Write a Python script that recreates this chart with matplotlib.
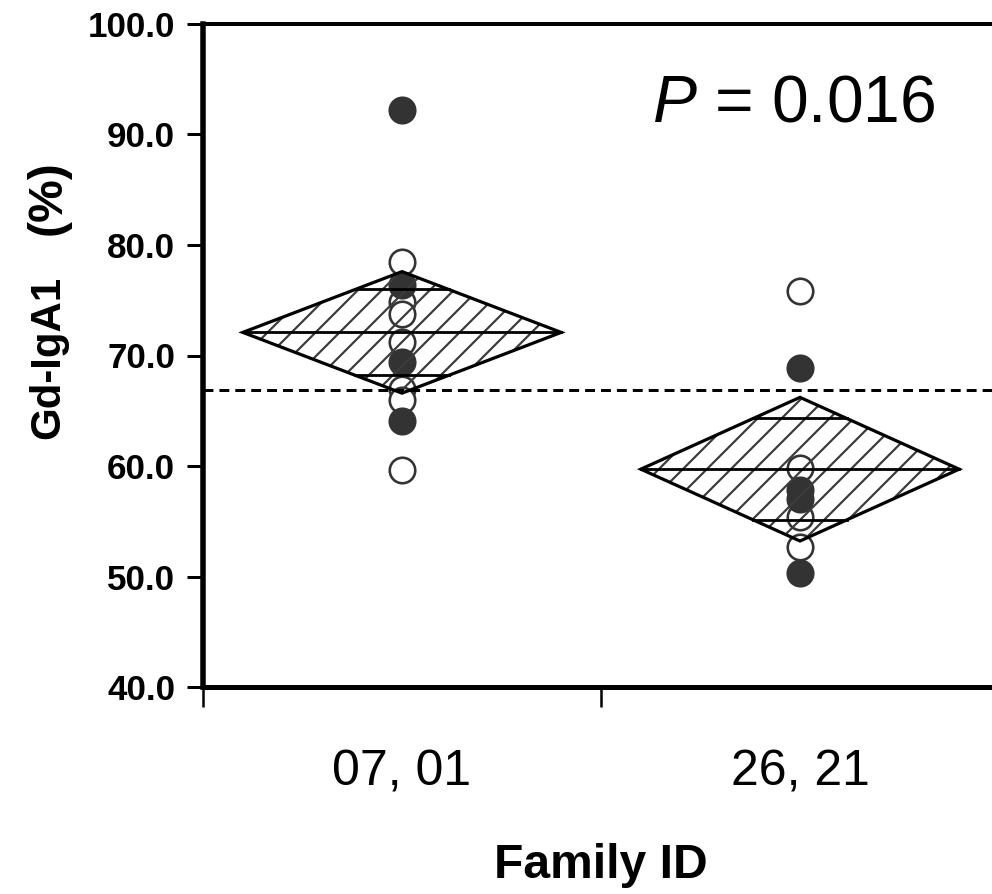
import numpy as np
import matplotlib
matplotlib.use("Agg")
import matplotlib.pyplot as plt
from matplotlib.patches import Polygon
from matplotlib.transforms import blended_transform_factory

# data
families = ["07, 01", "26, 21"]
g1_values = [92.2, 78.5, 76.4, 74.8, 73.8, 71.2, 69.4, 67.0, 66.0, 64.1, 59.6]
g1_filled = [True, False, True, False, False, False, True, False, False, True, False]
g2_values = [75.8, 68.9, 59.8, 57.8, 57.0, 55.4, 52.7, 50.3]
g2_filled = [False, True, False, True, True, False, False, True]
ci_half = [5.5, 6.5]          # half height of the 95% CI diamonds
y_ticks = [40, 50, 60, 70, 80, 90, 100]
p_text = "0.016"

plt.rcParams['font.family'] = ['Liberation Sans', 'DejaVu Sans']
plt.rcParams['mathtext.fontset'] = 'custom'
plt.rcParams['mathtext.it'] = 'Liberation Sans:italic'
plt.rcParams['mathtext.rm'] = 'Liberation Sans'
plt.rcParams['hatch.linewidth'] = 2.2


def main():
    fig = plt.figure(figsize=(992 / 72, 894 / 72), dpi=72)
    ax = fig.add_axes([203 / 992, 207 / 894, 796 / 992, 663 / 894])
    ax.set_xlim(0, 2)
    ax.set_ylim(40, 100)

    groups = [(g1_values, g1_filled), (g2_values, g2_filled)]
    centers = [0.5, 1.5]
    half_w = 0.4

    for cx, (vals, filled), ch in zip(centers, groups, ci_half):
        vals = np.array(vals)
        filled = np.array(filled)
        ax.plot(np.full((~filled).sum(), cx), vals[~filled], 'o', ms=25.5,
                mfc='white', mec='#333333', mew=2.6, zorder=2)
        ax.plot(np.full(filled.sum(), cx), vals[filled], 'o', ms=25.5,
                mfc='#333333', mec='#333333', mew=2.6, zorder=2)

        m = vals.mean()
        pts = [(cx - half_w, m), (cx, m + ch), (cx + half_w, m), (cx, m - ch)]
        ax.add_patch(Polygon(pts, closed=True, fill=False, hatch='/',
                             edgecolor='#3c3c3c', lw=0, zorder=3))
        ax.add_patch(Polygon(pts, closed=True, fill=False, joinstyle='miter',
                             edgecolor='black', lw=3.2, zorder=4))
        ax.plot([cx - half_w, cx + half_w], [m, m], color='black', lw=2.8, zorder=4)
        ov = ch / np.sqrt(2)
        frac = 1 - ov / ch
        for yy in (m + ov, m - ov):
            ax.plot([cx - half_w * frac, cx + half_w * frac], [yy, yy],
                    color='black', lw=2.8, zorder=4)

    grand = np.mean(g1_values + g2_values)
    ax.axhline(grand, color='black', lw=3, ls=(0, (3.3, 2)), zorder=5)

    ax.text(1.128, 91.2, r'$\it{P}$ = ' + p_text, fontsize=66, va='baseline', ha='left')

    # axes styling
    ax.spines['right'].set_visible(False)
    ax.spines['left'].set_linewidth(5.5)
    ax.spines['bottom'].set_linewidth(5)
    ax.spines['top'].set_linewidth(4)
    ax.set_yticks(y_ticks)
    ax.set_yticklabels(["%.1f" % t for t in y_ticks], fontsize=35, fontweight='bold')
    ax.tick_params(axis='y', length=16, width=3, pad=12, direction='out')
    ax.set_xticks([0, 1, 2])
    ax.set_xticklabels([])
    ax.tick_params(axis='x', length=20, width=2.5, direction='out')

    trans = blended_transform_factory(ax.transData, ax.transAxes)
    for cx, name in zip(centers, families):
        ax.text(cx, -0.148, name, transform=trans, fontsize=50,
                ha='center', va='baseline')
    ax.text(0.5, -0.288, "Family ID", transform=ax.transAxes, fontsize=48,
            fontweight='bold', ha='center', va='baseline')
    fig.text(48.5 / 992, 1 - 357.5 / 894, "Gd-IgA1", rotation=90,
             fontsize=42, fontweight='bold', ha='center', va='center')
    fig.text(48.5 / 992, 1 - 197.5 / 894, "(%)", rotation=90,
             fontsize=48, fontweight='bold', ha='center', va='center')

    fig.savefig("out.png", dpi=72)


if __name__ == '__main__':
    main()
